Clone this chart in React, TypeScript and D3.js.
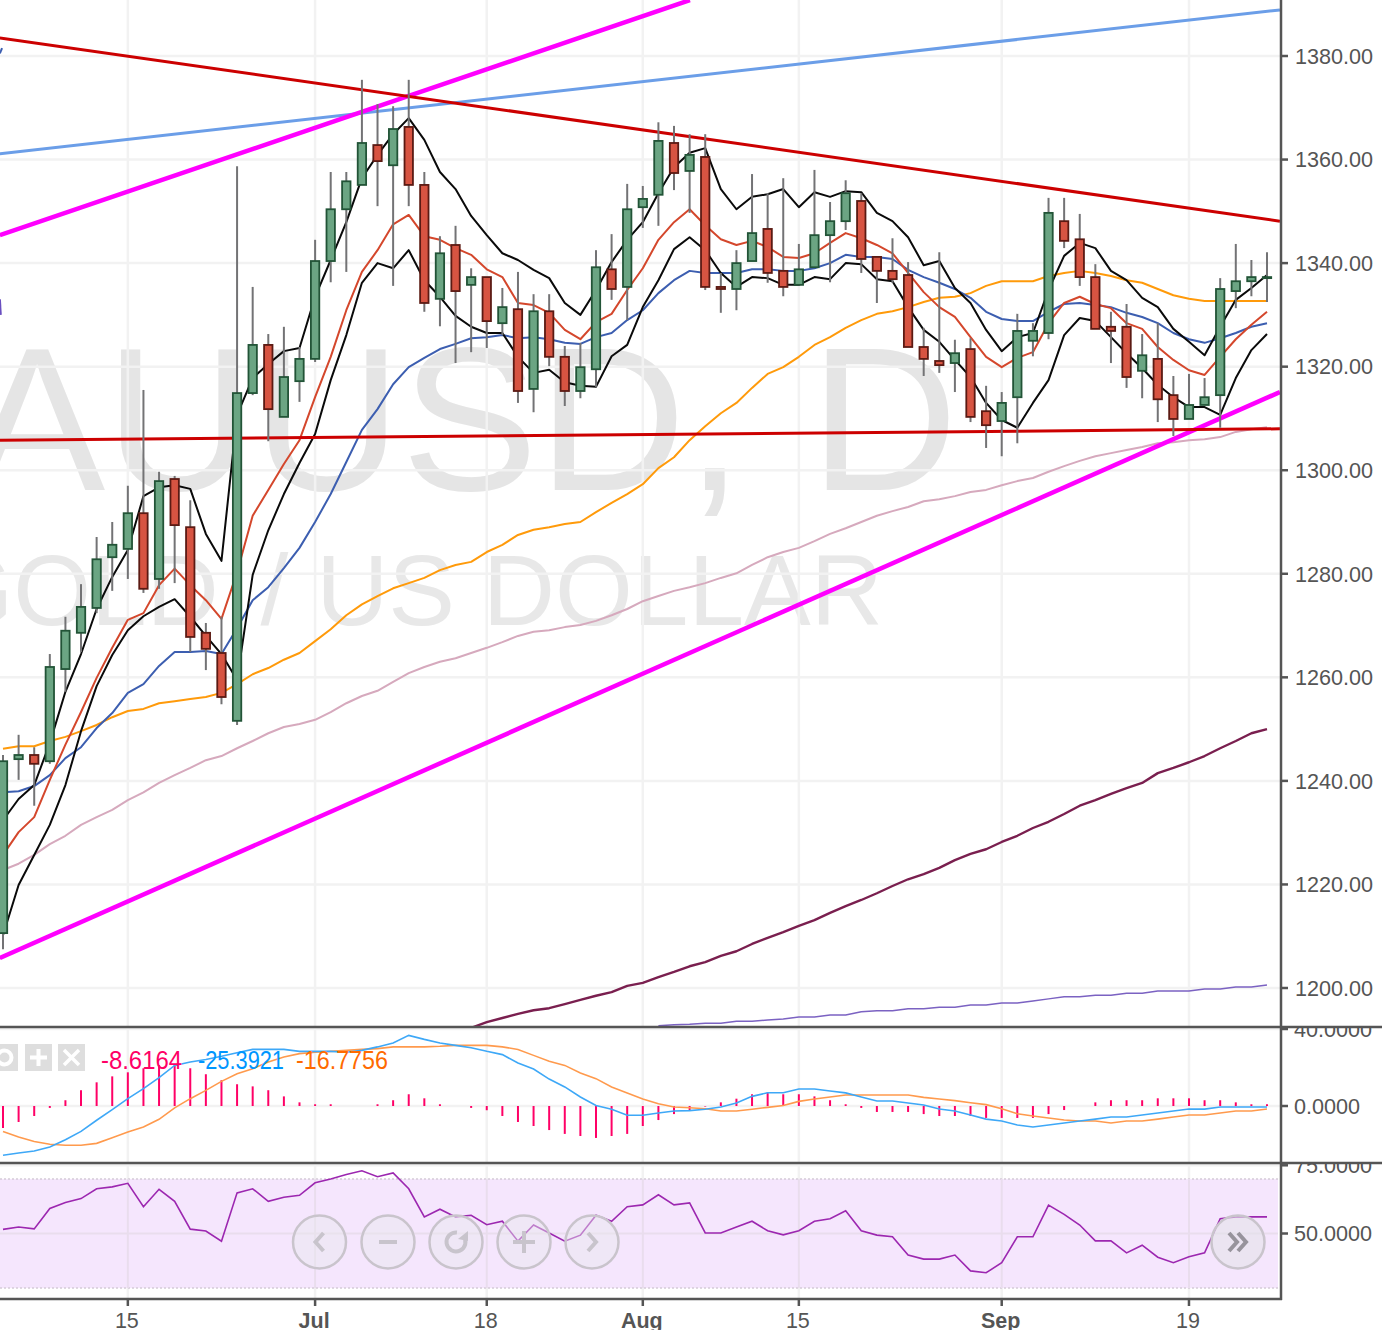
import * as d3 from "d3";
import React from "react";

const W = 1382;
const H = 1330;

// candles, index = daily bar
const opens = [
  1210.6, 1244.2, 1245.0, 1243.8, 1261.6, 1268.6, 1273.4, 1283.2, 1284.8, 1291.7,
  1279.0, 1298.3, 1289.0, 1268.6, 1264.7, 1251.6, 1314.9, 1324.2, 1310.3, 1317.2,
  1321.5, 1340.4, 1350.4, 1355.1, 1362.8, 1358.9, 1366.3, 1355.1, 1333.1, 1343.5,
  1335.8, 1337.3, 1328.4, 1331.1, 1315.7, 1330.7, 1321.9, 1315.3, 1319.5, 1338.8,
  1335.4, 1350.8, 1353.2, 1363.2, 1357.8, 1360.5, 1335.4, 1335.0, 1340.4, 1346.6,
  1338.5, 1335.8, 1339.2, 1345.4, 1348.1, 1352.0, 1341.2, 1338.5, 1337.7, 1323.8,
  1321.1, 1320.7, 1323.4, 1311.4, 1309.5, 1314.1, 1325.0, 1326.5, 1348.1, 1344.6,
  1337.3, 1327.7, 1327.7, 1319.2, 1321.5, 1314.5, 1309.9, 1312.6, 1314.5, 1334.6,
  1336.5, 1337.1,
];
const closes = [
  1243.8, 1245.0, 1243.3, 1262.0, 1269.0, 1273.6, 1282.8, 1285.6, 1291.7, 1277.1,
  1297.9, 1289.4, 1267.8, 1265.5, 1256.2, 1314.9, 1324.2, 1311.8, 1318.0, 1321.5,
  1340.4, 1350.4, 1355.8, 1363.2, 1359.7, 1365.9, 1355.1, 1332.3, 1341.9, 1334.6,
  1337.3, 1328.8, 1331.5, 1315.3, 1330.7, 1321.9, 1315.3, 1319.9, 1339.2, 1335.0,
  1350.4, 1352.4, 1363.6, 1357.4, 1360.9, 1335.4, 1335.0, 1340.0, 1345.8, 1338.1,
  1335.4, 1338.8, 1345.4, 1348.1, 1353.5, 1340.8, 1338.5, 1336.9, 1323.8, 1321.5,
  1320.3, 1322.6, 1310.3, 1308.7, 1313.0, 1326.9, 1326.9, 1349.7, 1344.3, 1337.3,
  1327.3, 1326.9, 1318.0, 1322.2, 1313.7, 1309.9, 1312.6, 1314.1, 1335.0, 1336.5,
  1337.3, 1337.3,
];
const highs = [
  1245.0, 1248.9, 1246.5, 1264.5, 1271.7, 1278.0, 1287.1, 1290.0, 1297.0, 1315.5,
  1299.7, 1298.9, 1294.2, 1270.5, 1271.7, 1358.7, 1335.4, 1326.3, 1327.7, 1323.8,
  1344.5, 1357.6, 1357.6, 1375.4, 1370.7, 1370.3, 1375.4, 1357.6, 1345.2, 1347.2,
  1339.0, 1337.3, 1335.2, 1338.3, 1334.0, 1334.0, 1324.0, 1324.6, 1342.5, 1345.6,
  1355.3, 1354.9, 1367.2, 1366.5, 1364.9, 1364.9, 1338.1, 1342.5, 1357.2, 1353.5,
  1356.4, 1343.7, 1358.0, 1351.8, 1356.0, 1353.5, 1341.2, 1344.8, 1340.2, 1327.5,
  1342.1, 1325.2, 1325.5, 1316.3, 1315.1, 1330.2, 1328.4, 1352.6, 1352.6, 1349.5,
  1339.8, 1330.6, 1332.1, 1326.3, 1328.4, 1318.2, 1318.6, 1317.8, 1337.1, 1343.7,
  1340.6, 1342.1,
];
const lows = [
  1207.5, 1240.2, 1235.2, 1243.3, 1257.2, 1264.9, 1272.4, 1276.7, 1279.0, 1276.3,
  1277.1, 1278.2, 1264.9, 1261.4, 1254.8, 1250.8, 1314.5, 1305.6, 1310.3, 1313.2,
  1320.9, 1336.3, 1338.3, 1355.1, 1351.0, 1335.6, 1351.0, 1330.6, 1327.8, 1320.7,
  1322.8, 1323.6, 1326.1, 1313.0, 1311.2, 1320.1, 1312.4, 1313.9, 1316.1, 1332.9,
  1329.0, 1346.8, 1347.2, 1354.1, 1349.7, 1334.8, 1330.4, 1330.9, 1340.4, 1336.2,
  1333.6, 1335.8, 1339.2, 1336.3, 1346.4, 1338.1, 1332.3, 1336.2, 1323.8, 1318.2,
  1318.8, 1315.1, 1309.3, 1304.3, 1302.7, 1305.2, 1322.0, 1325.3, 1342.9, 1335.6,
  1327.3, 1320.7, 1315.9, 1313.9, 1309.3, 1306.6, 1309.9, 1312.6, 1308.2, 1331.3,
  1333.6, 1332.5,
];

// overlays
const upperBand = [
  1232.4, 1236.5, 1239.2, 1247.3, 1257.2, 1264.5, 1273.2, 1279.4, 1284.6, 1295.0,
  1296.7, 1297.1, 1296.4, 1287.7, 1282.5, 1310.7, 1317.8, 1320.5, 1323.0, 1323.6,
  1333.5, 1340.6, 1347.9, 1356.4, 1360.9, 1364.9, 1368.0, 1363.8, 1357.6, 1354.3,
  1349.1, 1345.4, 1341.9, 1340.6, 1338.7, 1337.1, 1332.3, 1330.0, 1334.8, 1340.2,
  1344.5, 1347.9, 1353.5, 1358.5, 1361.3, 1362.2, 1354.3, 1350.4, 1352.8, 1353.3,
  1354.3, 1350.8, 1353.7, 1352.8, 1353.9, 1353.7, 1349.7, 1348.1, 1345.0, 1339.6,
  1340.4, 1335.2, 1332.3, 1327.1, 1323.0, 1325.7, 1326.5, 1334.8, 1341.4, 1343.9,
  1342.9, 1338.5, 1336.7, 1333.3, 1331.5, 1327.3, 1324.8, 1322.2, 1327.7, 1332.9,
  1335.2, 1337.7,
];
const lowerBand = [
  1210.2, 1219.9, 1225.7, 1231.5, 1239.2, 1249.6, 1258.3, 1264.3, 1269.1, 1271.8,
  1273.6, 1275.1, 1271.7, 1268.0, 1264.5, 1259.5, 1279.8, 1288.4, 1295.4, 1301.4,
  1307.0, 1317.4, 1326.1, 1336.2, 1340.0, 1339.0, 1342.5, 1336.7, 1333.5, 1329.8,
  1327.7, 1326.5, 1326.5, 1321.9, 1318.8, 1319.4, 1317.0, 1316.3, 1316.1, 1322.0,
  1324.2, 1331.5, 1336.7, 1342.7, 1345.0, 1342.5, 1338.1, 1335.4, 1337.3, 1337.1,
  1335.8, 1335.8, 1337.3, 1336.9, 1340.0, 1339.8, 1336.9, 1336.5, 1331.5, 1327.1,
  1324.8, 1321.3, 1318.0, 1313.0, 1309.7, 1308.2, 1313.0, 1317.4, 1326.1, 1329.4,
  1328.8, 1325.7, 1322.6, 1319.7, 1316.5, 1314.1, 1312.2, 1312.2, 1310.7, 1317.8,
  1323.2, 1326.3,
];
const redMa = [
  1225.7, 1230.1, 1233.0, 1240.2, 1247.0, 1253.3, 1259.9, 1265.7, 1271.1, 1272.4,
  1277.8, 1281.0, 1277.8, 1274.9, 1271.3, 1280.3, 1291.2, 1296.2, 1301.2, 1305.8,
  1314.1, 1321.9, 1330.9, 1338.3, 1342.5, 1347.5, 1349.3, 1345.2, 1344.5, 1342.9,
  1341.6, 1338.8, 1337.3, 1332.3, 1331.9, 1330.4, 1327.1, 1325.3, 1328.6, 1330.2,
  1334.8, 1339.0, 1344.5, 1347.9, 1350.4, 1347.3, 1344.6, 1343.5, 1344.3, 1343.1,
  1341.2, 1341.0, 1341.9, 1343.9, 1345.8, 1344.8, 1343.5, 1341.9, 1338.1, 1334.4,
  1331.5, 1329.6, 1325.7, 1321.9, 1319.9, 1321.7, 1322.8, 1328.4, 1332.3, 1333.5,
  1332.1, 1331.3, 1328.4, 1327.3, 1323.8, 1321.3, 1319.3, 1318.4, 1321.9, 1325.3,
  1328.1, 1330.6,
];
const blueMa = [
  1237.8, 1238.0, 1239.0, 1241.1, 1244.4, 1246.5, 1250.2, 1253.1, 1257.0, 1258.7,
  1262.2, 1264.9, 1264.9, 1265.1, 1264.5, 1269.5, 1274.9, 1277.4, 1281.1, 1285.0,
  1290.0, 1295.4, 1301.6, 1307.8, 1311.8, 1316.6, 1319.9, 1321.7, 1323.4, 1324.4,
  1325.5, 1325.7, 1326.1, 1325.5, 1325.7, 1325.3, 1324.6, 1324.4, 1325.7, 1326.5,
  1329.0, 1330.9, 1334.2, 1336.7, 1338.5, 1338.1, 1338.1, 1338.1, 1338.8, 1338.8,
  1338.5, 1338.5, 1339.0, 1340.0, 1341.6, 1341.2, 1341.2, 1340.8, 1338.7, 1337.3,
  1336.2, 1335.0, 1333.3, 1330.6, 1329.2, 1328.8, 1328.8, 1330.6, 1332.1, 1332.3,
  1331.9, 1331.5, 1330.4, 1329.6, 1328.4, 1326.5, 1325.3, 1324.6, 1325.5, 1326.5,
  1327.7, 1328.4,
];
const orangeMa = [
  1246.2, 1246.7, 1246.7, 1247.7, 1248.5, 1249.6, 1250.8, 1252.3, 1253.5, 1253.9,
  1255.0, 1255.4, 1255.8, 1256.2, 1257.0, 1258.7, 1260.6, 1261.8, 1263.4, 1264.7,
  1267.0, 1269.3, 1272.0, 1274.1, 1275.7, 1277.2, 1278.2, 1279.2, 1280.7, 1281.7,
  1282.3, 1284.2, 1285.6, 1287.5, 1288.5, 1289.0, 1289.6, 1290.0, 1291.9, 1293.7,
  1295.4, 1297.3, 1300.4, 1302.5, 1305.8, 1308.5, 1311.0, 1313.0, 1315.9, 1318.6,
  1319.9, 1321.9, 1324.2, 1325.7, 1327.5, 1329.0, 1330.2, 1330.7, 1331.5, 1332.5,
  1333.3, 1333.5, 1334.2, 1335.6, 1336.5, 1336.5, 1336.5, 1337.5, 1338.1, 1338.5,
  1338.1, 1337.5, 1336.7, 1336.2, 1335.0, 1333.8, 1333.1, 1332.7, 1332.7, 1332.7,
  1332.7, 1332.7,
];
const pinkMa = [
  1222.8, 1224.0, 1225.7, 1227.8, 1229.4, 1231.5, 1233.0, 1234.4, 1236.3, 1237.8,
  1239.6, 1241.1, 1242.5, 1244.0, 1244.8, 1246.3, 1247.7, 1249.2, 1250.4, 1251.0,
  1251.8, 1253.3, 1255.0, 1256.4, 1257.4, 1259.1, 1260.8, 1262.0, 1263.0, 1263.7,
  1264.7, 1265.7, 1266.8, 1268.0, 1268.8, 1269.1, 1269.7, 1270.1, 1270.9, 1272.0,
  1273.2, 1274.7, 1275.7, 1276.7, 1277.4, 1278.2, 1279.2, 1280.1, 1281.7, 1283.2,
  1284.2, 1285.0, 1286.3, 1287.7, 1288.8, 1290.0, 1291.2, 1292.1, 1292.9, 1294.0,
  1294.4, 1295.0, 1295.8, 1296.2, 1297.1, 1297.9, 1298.5, 1299.7, 1300.8, 1301.8,
  1302.7, 1303.3, 1303.9, 1304.5, 1305.2, 1305.4, 1305.8, 1306.0, 1306.4, 1307.4,
  1307.9, 1308.3,
];
// these two only enter the visible range part way along
const maroonStart = 30;
const maroonMa = [
  1192.3, 1193.4, 1194.2, 1195.0, 1195.7, 1196.1, 1196.9, 1197.7, 1198.5, 1199.2,
  1200.4, 1201.0, 1202.1, 1203.1, 1204.2, 1205.0, 1206.2, 1207.1, 1208.5, 1209.7,
  1210.8, 1212.0, 1213.1, 1214.5, 1215.8, 1217.0, 1218.3, 1219.7, 1221.0, 1222.0,
  1223.2, 1224.7, 1225.9, 1226.8, 1228.2, 1229.4, 1230.9, 1232.1, 1233.6, 1235.2,
  1236.3, 1237.5, 1238.6, 1239.6, 1241.5, 1242.5, 1243.6, 1244.8, 1246.3, 1247.7,
  1249.2, 1250.0,
];
const purpleStart = 42;
const purpleMa = [
  1192.7, 1192.9, 1193.0, 1193.2, 1193.2, 1193.6, 1193.6, 1193.8,
  1194.0, 1194.4, 1194.4, 1194.8, 1194.8, 1195.4, 1195.6, 1195.6, 1196.0, 1196.0,
  1196.3, 1196.3, 1196.7, 1196.7, 1197.1, 1197.1, 1197.5, 1197.9, 1198.3, 1198.3,
  1198.6, 1198.6, 1199.0, 1199.0, 1199.4, 1199.4, 1199.4, 1199.8, 1199.8, 1200.2,
  1200.2, 1200.6,
];

// drawn trend lines: bar, price, bar, price
const trendRed = [-0.2, 1383.5, 81.83, 1348.1];
const trendRedFlat = [-0.2, 1305.8, 81.83, 1308.0];
const trendBlue = [-0.2, 1361.1, 81.83, 1388.9];
const trendMagentaTop = [-0.2, 1345.4, 44.02, 1390.8];
const trendMagentaBottom = [-0.2, 1205.8, 81.83, 1315.1];
// stubs of older drawings that just enter at the left edge
const stubBlue = [-0.2, 1380.5, -0.06, 1381.5];
const stubPurple = [-0.2, 1333.0, -0.14, 1330.0];

// macd pane
const macdHist = [
  -11.4, -8.3, -5.2, -1.0, 3.0, 8.2, 12.3, 15.4, 17.5, 19.6,
  21.3, 21.1, 19.6, 16.5, 13.4, 11.3, 10.2, 8.2, 5.0, 1.9,
  0.9, 0.9, 0, 0, 0.9, 3.0, 6.1, 4.0, 0.9, 0,
  -1.0, -2.2, -5.2, -8.3, -10.4, -12.5, -14.5, -15.6, -16.6, -15.6,
  -14.5, -10.4, -7.3, -4.2, -2.1, -0.3, 1.9, 3.8, 6.1, 7.1,
  6.1, 6.1, 5.0, 3.0, 0.9, -1.0, -3.1, -3.1, -3.1, -4.2,
  -5.2, -5.2, -5.2, -6.2, -6.2, -6.2, -6.2, -4.2, -2.1, 0,
  1.9, 3.0, 3.0, 3.0, 4.0, 4.0, 4.0, 3.0, 3.0, 1.9,
  0.9, 0.9,
];
const macdLine = [
  -25.6, -24.4, -23.4, -21.3, -17.5, -13.2, -7.4, -1.9, 3.8, 9.0,
  14.7, 21.1, 22.9, 24.2, 25.8, 27.7, 29.4, 29.4, 29.4, 28.4,
  28.4, 28.4, 27.9, 28.9, 30.7, 32.7, 36.7, 34.6, 32.7, 31.5,
  30.3, 28.4, 26.7, 22.3, 19.2, 14.0, 9.9, 4.7, 0.3, -1.7,
  -4.8, -4.8, -3.6, -2.6, -2.4, -1.7, -0.5, 1.6, 5.0, 6.9,
  6.9, 8.8, 8.8, 7.8, 6.8, 4.7, 2.6, 2.6, 1.6, 0.5,
  -1.6, -2.6, -4.7, -6.8, -7.8, -9.9, -10.9, -9.9, -8.8, -7.8,
  -6.8, -5.7, -5.7, -4.7, -3.6, -2.6, -1.6, -1.6, -0.5, -0.5,
  -0.5, -0.5,
];
const macdSignal = [
  -13.2, -16.1, -18.4, -19.9, -20.4, -20.4, -19.4, -16.5, -13.5, -10.9,
  -6.9, -1.0, 3.8, 8.1, 12.8, 16.8, 19.4, 22.9, 25.5, 27.2,
  27.9, 28.4, 28.9, 29.4, 29.8, 30.7, 30.7, 30.7, 31.0, 31.5,
  31.5, 31.5, 30.7, 29.4, 26.3, 23.2, 21.1, 17.1, 14.2, 9.9,
  6.8, 3.6, 1.2, -0.5, -0.9, -1.4, -2.6, -2.6, -1.7, -0.7,
  0.3, 2.4, 3.6, 4.7, 5.7, 5.7, 5.7, 5.7, 5.7, 4.5,
  3.6, 2.8, 1.7, 0.7, -1.4, -4.0, -5.2, -6.2, -7.3, -7.8,
  -7.8, -8.8, -7.8, -7.8, -6.8, -5.7, -4.7, -4.7, -3.6, -2.6,
  -2.6, -1.6,
];
const macdLegend = ["-8.6164", "-25.3921", "-16.7756"];

// rsi pane
const rsiLine = [
  51.5, 52.4, 51.7, 59.2, 61.4, 62.8, 66.4, 67.1, 68.4, 59.8,
  66.2, 61.8, 51.6, 50.9, 47.2, 64.9, 66.4, 61.8, 63.3, 64.0,
  68.6, 70.0, 71.6, 73.0, 70.8, 72.2, 66.4, 56.1, 58.9, 56.1,
  56.7, 53.2, 54.5, 47.2, 53.1, 50.2, 47.2, 49.4, 56.7, 54.5,
  59.8, 60.5, 64.2, 60.5, 61.2, 50.2, 50.2, 52.4, 54.5, 51.0,
  49.5, 51.0, 54.5, 55.4, 58.3, 51.0, 49.4, 48.8, 42.1, 40.6,
  40.6, 42.1, 36.3, 35.6, 39.3, 48.8, 48.8, 60.4, 57.0, 53.1,
  47.3, 47.3, 42.9, 45.7, 41.3, 39.3, 41.5, 42.9, 55.4, 56.1,
  56.1, 56.1,
];

const priceTicks = [1200, 1220, 1240, 1260, 1280, 1300, 1320, 1340, 1360, 1380];
const dateTicks = [
  { bar: 8, label: "15", major: false },
  { bar: 20, label: "Jul", major: true },
  { bar: 31, label: "18", major: false },
  { bar: 41, label: "Aug", major: true },
  { bar: 51, label: "15", major: false },
  { bar: 64, label: "Sep", major: true },
  { bar: 76, label: "19", major: false },
];

const FONT = "'Liberation Sans', Arial, sans-serif";
const AXIS = "#555555";
const GRID = "#f2f2f2";

const paneRight = 1280;
const mainBottom = 1027;
const macdBottom = 1163;
const rsiBottom = 1299;

const x = d3.scaleLinear().domain([0, 81]).range([3, 1267]);
const y = d3.scaleLinear().domain([1200, 1380]).range([988, 56]);
const yMacd = d3.scaleLinear().domain([0, 40]).range([1106, 1029]);
const yRsi = d3.scaleLinear().domain([50, 75]).range([1233.5, 1165.3]);

const priceLine = (vals: number[], start = 0) =>
  d3
    .line<number>()
    .x((_, i) => x(i + start))
    .y((v) => y(v))(vals) || "";

const paneLine = (vals: number[], scale: d3.ScaleLinear<number, number>) =>
  d3
    .line<number>()
    .x((_, i) => x(i))
    .y((v) => scale(v))(vals) || "";

const overlays = [
  { vals: pinkMa, start: 0, color: "#d6a9bd", w: 2 },
  { vals: maroonMa, start: maroonStart, color: "#7a1f4f", w: 2.4 },
  { vals: purpleMa, start: purpleStart, color: "#7b62c2", w: 1.5 },
  { vals: orangeMa, start: 0, color: "#ff9a0a", w: 2 },
  { vals: blueMa, start: 0, color: "#3c5eb0", w: 2 },
  { vals: redMa, start: 0, color: "#d4472c", w: 2 },
  { vals: upperBand, start: 0, color: "#0a0a0a", w: 2 },
  { vals: lowerBand, start: 0, color: "#0a0a0a", w: 2 },
];

const trends = [
  { t: trendBlue, color: "#6b9ee8", w: 3 },
  { t: trendMagentaTop, color: "#ff00ff", w: 4.5 },
  { t: trendMagentaBottom, color: "#ff00ff", w: 4.5 },
  { t: trendRed, color: "#cc0000", w: 3 },
  { t: trendRedFlat, color: "#cc0000", w: 3 },
  { t: stubBlue, color: "#3c5eb0", w: 2 },
  { t: stubPurple, color: "#6a4fc0", w: 2 },
];

const navButtons = [319.5, 388, 456, 524, 592];
const refreshArc =
  d3.arc()({
    innerRadius: 7.5,
    outerRadius: 11.5,
    startAngle: 0.9,
    endAngle: Math.PI * 2 + 0.1,
  }) || "";

export default function App() {
  const bodyW = 8.4;
  return (
    <svg
      width={W}
      height={H}
      viewBox={`0 0 ${W} ${H}`}
      style={{ position: "absolute", left: 0, top: 0, background: "#fff", fontFamily: FONT }}
    >
      <defs>
        <clipPath id="main">
          <rect x={0} y={0} width={paneRight} height={mainBottom} />
        </clipPath>
        <clipPath id="macdAxis">
          <rect x={paneRight} y={mainBottom} width={W - paneRight} height={macdBottom - mainBottom} />
        </clipPath>
        <clipPath id="rsiAxis">
          <rect x={paneRight} y={macdBottom} width={W - paneRight} height={rsiBottom - macdBottom} />
        </clipPath>
      </defs>

      {/* watermark */}
      <text x={958} y={490} textAnchor="end" fontSize={205} fill="#e5e5e5">
        XAUUSD, <tspan dx={10}>D</tspan>
      </text>
      <text x={883} y={625} textAnchor="end" fontSize={100} fill="#e8e8e8">
        GOLD<tspan dx={14}> / US DOLLAR</tspan>
      </text>

      {/* grid */}
      <g stroke={GRID} strokeWidth={2.5}>
        {priceTicks.map((t) => (
          <line key={t} x1={0} x2={paneRight} y1={y(t)} y2={y(t)} />
        ))}
        {dateTicks.map((d) => (
          <line key={d.bar} x1={x(d.bar)} x2={x(d.bar)} y1={0} y2={rsiBottom} />
        ))}
        <line x1={0} x2={paneRight} y1={yMacd(0)} y2={yMacd(0)} />
        <line x1={0} x2={paneRight} y1={yMacd(40)} y2={yMacd(40)} />
        <line x1={0} x2={paneRight} y1={yRsi(75)} y2={yRsi(75)} />
      </g>

      <g clipPath="url(#main)" fill="none">
        {overlays.map((o, i) => (
          <path key={i} d={priceLine(o.vals, o.start)} stroke={o.color} strokeWidth={o.w} strokeLinejoin="round" />
        ))}
      </g>

      {/* trend lines sit under the candles */}
      <g clipPath="url(#main)">
        {trends.map((l, i) => (
          <line
            key={i}
            x1={x(l.t[0])}
            y1={y(l.t[1])}
            x2={x(l.t[2])}
            y2={y(l.t[3])}
            stroke={l.color}
            strokeWidth={l.w}
          />
        ))}
      </g>

      {/* candles */}
      <g clipPath="url(#main)">
        {opens.map((o, i) => {
          const c = closes[i];
          const up = c >= o;
          const top = y(Math.max(o, c));
          const bot = y(Math.min(o, c));
          return (
            <g key={i}>
              <line x1={x(i)} x2={x(i)} y1={y(highs[i])} y2={y(lows[i])} stroke="#737375" strokeWidth={2} />
              <rect
                x={x(i) - bodyW / 2}
                y={top}
                width={bodyW}
                height={Math.max(bot - top, 1)}
                fill={up ? "#6ba583" : "#d75442"}
                stroke={up ? "#225437" : "#5b1a13"}
                strokeWidth={1.8}
              />
            </g>
          );
        })}
      </g>

      {/* macd */}
      <g stroke="#ff0066" strokeWidth={2}>
        {macdHist.map((v, i) =>
          v === 0 ? null : <line key={i} x1={x(i)} x2={x(i)} y1={yMacd(0)} y2={yMacd(v)} />,
        )}
      </g>
      <path d={paneLine(macdSignal, yMacd)} fill="none" stroke="#ff9a4d" strokeWidth={1.6} />
      <path d={paneLine(macdLine, yMacd)} fill="none" stroke="#3ea8f7" strokeWidth={1.6} />

      {/* legend buttons */}
      <g>
        {[-9, 25, 58].map((bx) => (
          <rect key={bx} x={bx} y={1044} width={27} height={27} fill="#dedede" />
        ))}
        <circle cx={4.5} cy={1057.5} r={7} fill="none" stroke="#fff" strokeWidth={4} />
        <path d="M38.5,1049V1066M30,1057.5H47" stroke="#fff" strokeWidth={4} />
        <path d="M64,1050L79,1065M79,1050L64,1065" stroke="#fff" strokeWidth={3.5} />
      </g>
      <g fontSize={26} textAnchor="start" lengthAdjust="spacingAndGlyphs">
        <text x={101} y={1069} fill="#ff0066" textLength={81} lengthAdjust="spacingAndGlyphs">{macdLegend[0]}</text>
        <text x={198} y={1069} fill="#0096ff" textLength={86} lengthAdjust="spacingAndGlyphs">{macdLegend[1]}</text>
        <text x={296} y={1069} fill="#ff6a00" textLength={92} lengthAdjust="spacingAndGlyphs">{macdLegend[2]}</text>
      </g>

      {/* rsi */}
      <rect x={0} y={yRsi(70)} width={1278} height={yRsi(30) - yRsi(70)} fill="#f5e6fd" />
      <g stroke="#d5cbd8" strokeWidth={1.5} strokeDasharray="2 2">
        <line x1={0} x2={1278} y1={yRsi(70)} y2={yRsi(70)} />
        <line x1={0} x2={1278} y1={yRsi(30)} y2={yRsi(30)} />
      </g>
      <g stroke="#e9dded" strokeWidth={2}>
        <line x1={0} x2={1278} y1={yRsi(50)} y2={yRsi(50)} />
        {dateTicks.map((d) => (
          <line key={d.bar} x1={x(d.bar)} x2={x(d.bar)} y1={yRsi(70)} y2={yRsi(30)} />
        ))}
      </g>
      <path d={paneLine(rsiLine, yRsi)} fill="none" stroke="#9c27b0" strokeWidth={1.6} />

      {/* nav buttons */}
      <g>
        {[...navButtons, 1238].map((cx) => (
          <circle
            key={cx}
            cx={cx}
            cy={1242}
            r={26.5}
            fill={cx === 1238 ? "rgba(225,225,232,0.55)" : "rgba(232,232,238,0.45)"}
            stroke="#c9c4cc"
            strokeWidth={2.5}
          />
        ))}
        <g fill="none" stroke="#c8c4cc" strokeWidth={4}>
          <path d={`M${navButtons[0] + 4},1233L${navButtons[0] - 4},1242L${navButtons[0] + 4},1251`} />
          <path d={`M${navButtons[1] - 9},1242H${navButtons[1] + 9}`} />
          <path d={`M${navButtons[3] - 11},1242H${navButtons[3] + 11}M${navButtons[3]},1231V1253`} />
          <path d={`M${navButtons[4] - 4},1233L${navButtons[4] + 4},1242L${navButtons[4] - 4},1251`} />
        </g>
        <path d={refreshArc} transform={`translate(${navButtons[2]},1242)`} fill="#c8c4cc" />
        <path d={`M${navButtons[2] + 2},1239L${navButtons[2] + 12},1231V1241Z`} fill="#c8c4cc" />
        <path d="M1229,1233L1237,1242L1229,1251M1238,1233L1246,1242L1238,1251" fill="none" stroke="#97939c" strokeWidth={4} />
      </g>

      {/* axes */}
      <g stroke={AXIS} strokeWidth={2.5}>
        <line x1={paneRight + 1} x2={paneRight + 1} y1={0} y2={rsiBottom + 1} />
        <line x1={0} x2={W} y1={mainBottom} y2={mainBottom} />
        <line x1={0} x2={W} y1={macdBottom} y2={macdBottom} />
        <line x1={0} x2={paneRight + 2} y1={rsiBottom} y2={rsiBottom} />
        {priceTicks.map((t) => (
          <line key={t} x1={paneRight} x2={paneRight + 8} y1={y(t)} y2={y(t)} />
        ))}
        <line x1={paneRight} x2={paneRight + 8} y1={yMacd(0)} y2={yMacd(0)} />
        <line x1={paneRight} x2={paneRight + 8} y1={yMacd(40)} y2={yMacd(40)} />
        <line x1={paneRight} x2={paneRight + 8} y1={yRsi(50)} y2={yRsi(50)} />
        <line x1={paneRight} x2={paneRight + 8} y1={yRsi(75)} y2={yRsi(75)} />
        {dateTicks.map((d) => (
          <line key={d.bar} x1={x(d.bar)} x2={x(d.bar)} y1={rsiBottom} y2={rsiBottom + 7} />
        ))}
      </g>

      <g fontSize={21.6} fill={AXIS}>
        {priceTicks.map((t) => (
          <text key={t} x={1295} y={y(t)} dy="0.36em">
            {t.toFixed(2)}
          </text>
        ))}
        <g clipPath="url(#macdAxis)">
          <text x={1294} y={yMacd(40)} dy="0.36em">{(40).toFixed(4)}</text>
          <text x={1294} y={yMacd(0)} dy="0.36em">{(0).toFixed(4)}</text>
        </g>
        <g clipPath="url(#rsiAxis)">
          <text x={1294} y={yRsi(75)} dy="0.36em">{(75).toFixed(4)}</text>
          <text x={1294} y={yRsi(50)} dy="0.36em">{(50).toFixed(4)}</text>
        </g>
      </g>
      <g fontSize={21.5} fill={AXIS} textAnchor="middle">
        {dateTicks.map((d) => (
          <text key={d.bar} x={x(d.bar) - 1} y={1328} fontWeight={d.major ? 700 : 400}>
            {d.label}
          </text>
        ))}
      </g>
    </svg>
  );
}
